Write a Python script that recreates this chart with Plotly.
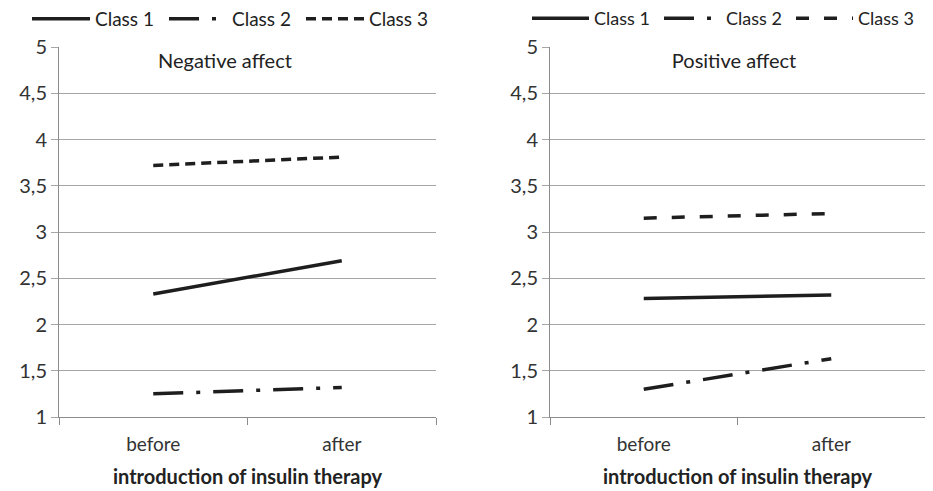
import plotly.graph_objects as go

categories = ["before", "after"]
classes = ["Class 1", "Class 2", "Class 3"]
neg_class1 = [2.33, 2.69]
neg_class2 = [1.25, 1.32]
neg_class3 = [3.72, 3.81]
pos_class1 = [2.28, 2.32]
pos_class2 = [1.30, 1.63]
pos_class3 = [3.15, 3.20]
y_ticks = [1, 1.5, 2, 2.5, 3, 3.5, 4, 4.5, 5]
panel_titles = ["Negative affect", "Positive affect"]
x_title = "introduction of insulin therapy"

FONT = "Lato"
INK = "#1e1e1e"
GRID = "#a6a6a6"
AXIS = "#8c8c8c"

neg_dash = ["solid", "30px,13px,4px,13px", "10px,6px"]
pos_dash = ["solid", "30px,13px,4px,13px", "13px,15px"]

fig = go.Figure()
for name, vals, dash in zip(classes, [neg_class1, neg_class2, neg_class3], neg_dash):
    fig.add_trace(go.Scatter(x=categories, y=vals, name=name, mode="lines",
                             line=dict(color=INK, width=3.5, dash=dash),
                             xaxis="x", yaxis="y", legend="legend"))
for name, vals, dash in zip(classes, [pos_class1, pos_class2, pos_class3], pos_dash):
    fig.add_trace(go.Scatter(x=categories, y=vals, name=name, mode="lines",
                             line=dict(color=INK, width=3.5, dash=dash),
                             xaxis="x2", yaxis="y2", legend="legend2"))

# page offset of the plot div inside the browser window
OFF = 8
W = 933 - OFF
H = 491 - OFF


def px_x(x):
    return (x - OFF) / W


def px_y(y):
    return 1 - (y - OFF) / H


xcommon = dict(type="category", range=[-0.5, 1.5], tickson="boundaries",
               ticks="outside", ticklen=7, tickcolor=AXIS, showline=True,
               linecolor=AXIS, linewidth=1, showgrid=False,
               ticklabelstandoff=10,
               tickfont=dict(family=FONT, size=19, color="#333333"),
               title=dict(text="<b>" + x_title + "</b>",
                          font=dict(family=FONT, size=20, color="#222222"),
                          standoff=16))
ycommon = dict(range=[1, 5], tickvals=y_ticks, ticks="outside", ticklen=7,
               tickcolor=GRID, showline=True, linecolor=AXIS, linewidth=1,
               showgrid=True, gridcolor=GRID, gridwidth=1, zeroline=False,
               ticklabelstandoff=0,
               tickfont=dict(family=FONT, size=20, color="#333333"))

legend_font = dict(family=FONT, size=19, color="#222222")
fig.update_layout(
    width=W, height=H,
    margin=dict(l=0, r=0, t=0, b=0, autoexpand=False),
    paper_bgcolor="white", plot_bgcolor="white",
    separators=", ",
    xaxis=dict(domain=[px_x(59), px_x(436)], anchor="y", **xcommon),
    yaxis=dict(domain=[px_y(417), px_y(47)], anchor="x", **ycommon),
    xaxis2=dict(domain=[px_x(550), px_x(925)], anchor="y2", **xcommon),
    yaxis2=dict(domain=[px_y(417), px_y(47)], anchor="x2", **ycommon),
    legend=dict(orientation="h", x=px_x(27), y=px_y(0), xanchor="left", yanchor="top",
                font=legend_font, itemwidth=58, entrywidth=64, entrywidthmode="pixels",
                bgcolor="rgba(0,0,0,0)", tracegroupgap=0),
    legend2=dict(orientation="h", x=px_x(527), y=px_y(0), xanchor="left", yanchor="top",
                 font=dict(family=FONT, size=18, color="#222222"),
                 itemwidth=57, entrywidth=60, entrywidthmode="pixels",
                 bgcolor="rgba(0,0,0,0)", tracegroupgap=0),
    showlegend=True,
)

title_x = [(225 - 59) / 377, (734 - 550) / 375]
for i, (t, tx) in enumerate(zip(panel_titles, title_x)):
    xr = "x domain" if i == 0 else "x2 domain"
    yr = "y domain" if i == 0 else "y2 domain"
    fig.add_annotation(text=t, x=tx, y=1 + 4 / 370, xref=xr, yref=yr,
                       xanchor="center", yanchor="top", showarrow=False,
                       width=190, height=32, bgcolor="white", borderpad=0,
                       font=dict(family=FONT, size=20, color="#222222"))

fig.write_html("out.html")
